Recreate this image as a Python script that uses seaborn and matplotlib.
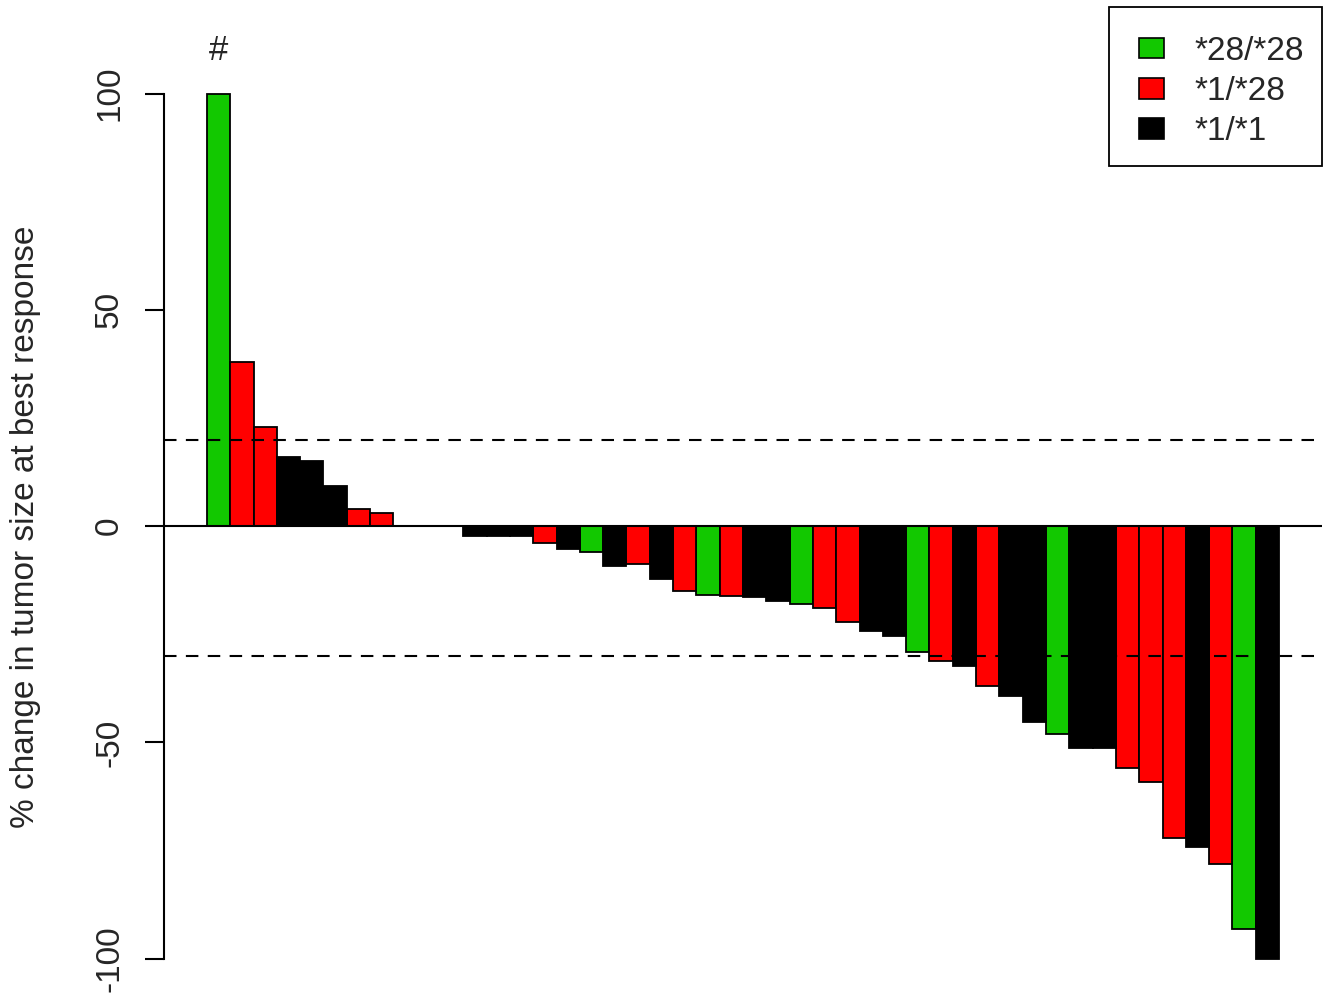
import pandas as pd
import matplotlib
matplotlib.use("Agg")
import matplotlib.pyplot as plt
from matplotlib.patches import Patch, Rectangle
from matplotlib.legend_handler import HandlerPatch
import seaborn as sns

# % change in tumor size at best response, one value per patient (sorted waterfall)
change = [100, 38, 23, 16, 15, 9.2, 4, 3, 0, 0, 0, -2.2, -2.2, -2.2, -4, -5.3,
          -5.9, -9.2, -8.8, -12.3, -15, -15.9, -16.1, -16.3, -17.3, -18, -19,
          -22.1, -24.3, -25.3, -29, -31.1, -32.3, -37, -39.3, -45.3, -48.1,
          -51.3, -51.3, -56, -59.1, -72.2, -74.3, -78.2, -93.2, -100]

# genotype of each patient (G = *28/*28, R = *1/*28, B = *1/*1)
geno_code = list("GRRBBBRRBBBBBBRBGBRBRGRBBGRRBBGRBRBBGBBRRRBRGB")
geno_names = {"G": "*28/*28", "R": "*1/*28", "B": "*1/*1"}
genotypes = [geno_names[c] for c in geno_code]

legend_labels = ["*28/*28", "*1/*28", "*1/*1"]
legend_colors = ["#12C800", "#FF0000", "#000000"]

yticks = [-100, -50, 0, 50, 100]
ref_lines = [20, -30]

df = pd.DataFrame({"patient": list(range(len(change))),
                   "change": change,
                   "genotype": genotypes})

sns.set_style("white")
plt.rcParams["font.family"] = ["Liberation Sans", "DejaVu Sans"]

fig = plt.figure(figsize=(13.37, 10), dpi=100)
ax = fig.add_axes([164 / 1337, 1 - 995 / 1000, (1322 - 164) / 1337, (995 - 7) / 1000])

pal = dict(zip(legend_labels, legend_colors))
sns.barplot(data=df, x="patient", y="change", hue="genotype",
            hue_order=legend_labels, palette=pal, dodge=False, width=1,
            saturation=1, edgecolor="black", linewidth=1.3, legend=False, ax=ax)

# reference lines drawn on top of the bars
ax.axhline(0, color="black", lw=1.5, zorder=5)
for v in ref_lines:
    ax.axhline(v, color="black", lw=1.5, ls=(0, (6, 4.5)), zorder=5)

ax.text(0, 110, "#", ha="center", va="center", fontsize=25)

n = len(change)
ext = 0.04 * n
ax.set_xlim(-0.5 - ext, n - 0.5 + ext)
ax.set_ylim(-108.4, 120)
ax.set_xticks([])
ax.set_xlabel("")

ax.set_yticks(yticks)
ax.set_yticklabels([str(t) for t in yticks], rotation=90, va="center")
ax.tick_params(axis="y", direction="out", length=14, width=1.5, labelsize=24,
               pad=14, left=True, color="black")
ax.set_ylabel("% change in tumor size at best response", fontsize=24)
ax.yaxis.set_label_coords(-0.106, 0.474)

for s in ["top", "right", "bottom"]:
    ax.spines[s].set_visible(False)
ax.spines["left"].set_bounds(-100, 100)
ax.spines["left"].set_linewidth(1.5)
ax.spines["left"].set_color("black")


# small box pushed to the right of the handle area, like R's legend fill boxes
def box_handle(legend, orig_handle, xdescent, ydescent, width, height, fontsize):
    w, h = 18, 15
    return Rectangle((-xdescent + width - w, -ydescent + (height - h) / 2), w, h)


handles = [Patch(facecolor=c, edgecolor="black", linewidth=1.2) for c in legend_colors]
# a blank tiny title only adds some room above the first entry
leg = ax.legend(handles, legend_labels, loc="upper right", bbox_to_anchor=(1, 1),
                borderaxespad=0, fontsize=24, fancybox=False, framealpha=1,
                edgecolor="black", handlelength=1.1, handleheight=0.7,
                handletextpad=0.9, labelspacing=0.28, borderpad=0.55,
                title=" ", title_fontsize=1,
                handler_map={Patch: HandlerPatch(patch_func=box_handle)})
leg.get_frame().set_linewidth(1.3)

fig.savefig("out.png", dpi=100)
